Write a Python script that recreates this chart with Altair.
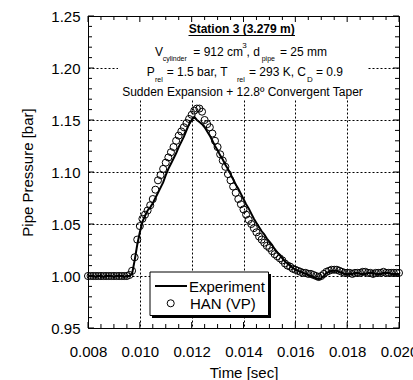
import altair as alt
import pandas as pd

# ---------------- data ----------------
time = [
    0.0080, 0.0081, 0.0082, 0.0083, 0.0084, 0.0085, 0.0086, 0.0087, 0.0088, 0.0089,
    0.0090, 0.0091, 0.0092, 0.0093, 0.0094, 0.0095, 0.0096, 0.0097, 0.0098, 0.0099,
    0.0100, 0.0101, 0.0102, 0.0103, 0.0104, 0.0105, 0.0106, 0.0107, 0.0108, 0.0109,
    0.0110, 0.0111, 0.0112, 0.0113, 0.0114, 0.0115, 0.0116, 0.0117, 0.0118, 0.0119,
    0.0120, 0.0121, 0.0122, 0.0123, 0.0124, 0.0125, 0.0126, 0.0127, 0.0128, 0.0129,
    0.0130, 0.0131, 0.0132, 0.0133, 0.0134, 0.0135, 0.0136, 0.0137, 0.0138, 0.0139,
    0.0140, 0.0141, 0.0142, 0.0143, 0.0144, 0.0145, 0.0146, 0.0147, 0.0148, 0.0149,
    0.0150, 0.0151, 0.0152, 0.0153, 0.0154, 0.0155, 0.0156, 0.0157, 0.0158, 0.0159,
    0.0160, 0.0161, 0.0162, 0.0163, 0.0164, 0.0165, 0.0166, 0.0167, 0.0168, 0.0169,
    0.0170, 0.0171, 0.0172, 0.0173, 0.0174, 0.0175, 0.0176, 0.0177, 0.0178, 0.0179,
    0.0180, 0.0181, 0.0182, 0.0183, 0.0184, 0.0185, 0.0186, 0.0187, 0.0188, 0.0189,
    0.0190, 0.0191, 0.0192, 0.0193, 0.0194, 0.0195, 0.0196, 0.0197, 0.0198, 0.0199,
    0.0200,
]

experiment = [
    1.000, 1.000, 1.000, 0.999, 1.000, 1.000, 0.999, 1.000, 1.000, 1.000,
    0.999, 1.000, 1.000, 1.000, 0.999, 1.000, 1.000, 1.002, 1.015, 1.030,
    1.042, 1.052, 1.058, 1.063, 1.066, 1.070, 1.075, 1.080, 1.085, 1.090,
    1.097, 1.103, 1.108, 1.113, 1.118, 1.124, 1.129, 1.134, 1.140, 1.146,
    1.150, 1.153, 1.150, 1.148, 1.146, 1.143, 1.139, 1.135, 1.130, 1.125,
    1.121, 1.116, 1.112, 1.107, 1.103, 1.098, 1.093, 1.088, 1.084, 1.079,
    1.074, 1.069, 1.065, 1.060, 1.055, 1.051, 1.047, 1.043, 1.040, 1.036,
    1.033, 1.030, 1.026, 1.023, 1.020, 1.017, 1.014, 1.012, 1.010, 1.008,
    1.006, 1.005, 1.004, 1.003, 1.002, 1.001, 1.000, 0.999, 0.998, 0.997,
    0.998, 1.000, 1.003, 1.004, 1.005, 1.005, 1.005, 1.004, 1.003, 1.002,
    1.002, 1.002, 1.002, 1.003, 1.003, 1.002, 1.002, 1.002, 1.003, 1.003,
    1.003, 1.002, 1.002, 1.002, 1.003, 1.003, 1.003, 1.002, 1.002, 1.002,
    1.002,
]

han_vp = [
    1.000, 1.000, 1.000, 1.000, 1.000, 1.000, 1.000, 1.000, 1.000, 1.000,
    1.000, 1.000, 1.000, 1.000, 1.000, 1.000, 1.001, 1.005, 1.018, 1.035,
    1.048, 1.055, 1.059, 1.063, 1.068, 1.074, 1.083, 1.092, 1.097, 1.103,
    1.109, 1.114, 1.119, 1.124, 1.130, 1.135, 1.139, 1.143, 1.147, 1.151,
    1.155, 1.159, 1.161, 1.161, 1.158, 1.150, 1.146, 1.143, 1.137, 1.130,
    1.124, 1.117, 1.111, 1.105, 1.098, 1.092, 1.086, 1.080, 1.074, 1.069,
    1.064, 1.059, 1.054, 1.050, 1.046, 1.042, 1.038, 1.035, 1.032, 1.029,
    1.027, 1.024, 1.021, 1.019, 1.017, 1.015, 1.012, 1.010, 1.009, 1.007,
    1.006, 1.005, 1.004, 1.003, 1.003, 1.002, 1.002, 1.001, 1.000, 0.999,
    1.000, 1.002, 1.004, 1.005, 1.006, 1.006, 1.006, 1.005, 1.004, 1.003,
    1.003, 1.003, 1.002, 1.003, 1.003, 1.003, 1.004, 1.004, 1.003, 1.003,
    1.002, 1.003, 1.003, 1.003, 1.004, 1.003, 1.003, 1.003, 1.003, 1.003,
    1.003,
]

x_major = [0.008, 0.010, 0.012, 0.014, 0.016, 0.018, 0.020]
x_minor = [0.0085, 0.0090, 0.0095, 0.0105, 0.0110, 0.0115, 0.0125, 0.0130, 0.0135,
           0.0145, 0.0150, 0.0155, 0.0165, 0.0170, 0.0175, 0.0185, 0.0190, 0.0195]
y_major = [0.95, 1.00, 1.05, 1.10, 1.15, 1.20, 1.25]
y_minor = [0.96, 0.97, 0.98, 0.99, 1.01, 1.02, 1.03, 1.04, 1.06, 1.07, 1.08, 1.09,
           1.11, 1.12, 1.13, 1.14, 1.16, 1.17, 1.18, 1.19, 1.21, 1.22, 1.23, 1.24]

# ---------------- layout ----------------
W, H = 311, 312
FONT = "Liberation Sans"

df = pd.DataFrame({"t": time, "exp": experiment, "han": han_vp})
one = pd.DataFrame({"k": [0]})

xs = alt.Scale(domain=[0.008, 0.020], nice=False, zero=False)
ys = alt.Scale(domain=[0.95, 1.25], nice=False, zero=False)

x_axis = alt.Axis(
    values=x_major, format=".3f", grid=True, gridColor="black", gridDash=[2, 2],
    gridWidth=1, gridOpacity=1, ticks=False, tickSize=0, domain=False,
    labelFont=FONT, labelFontSize=15, labelColor="black", labelPadding=16,
    labelFlush=False, labelOverlap=False,
    title="Time [sec]", titleFont=FONT, titleFontSize=15, titleFontWeight="normal",
    titleColor="black", titleX=155.5, titleY=44, titleBaseline="middle",
)
y_axis = alt.Axis(
    values=y_major, format=".2f", grid=True, gridColor="black", gridDash=[2, 2],
    gridWidth=1, gridOpacity=1, ticks=False, tickSize=0, domain=False,
    labelFont=FONT, labelFontSize=15, labelColor="black", labelPadding=8,
    labelFlush=False, labelOverlap=False,
    title="Pipe Pressure [bar]", titleFont=FONT, titleFontSize=15,
    titleFontWeight="normal", titleColor="black", titleX=-61, titleY=156,
    titleAngle=270, titleBaseline="middle", titleAlign="center",
)

line = alt.Chart(df).mark_line(color="black", strokeWidth=2).encode(
    x=alt.X("t:Q", scale=xs, axis=x_axis),
    y=alt.Y("exp:Q", scale=ys, axis=y_axis),
)
pts = alt.Chart(df).mark_point(shape="circle", size=50, color="black",
                               strokeWidth=1, filled=False, opacity=1).encode(
    x=alt.X("t:Q", scale=xs, axis=x_axis),
    y=alt.Y("han:Q", scale=ys, axis=y_axis),
)


def txt(s, x, y, size=12, weight="normal", align="left", baseline="alphabetic"):
    return alt.Chart(one).mark_text(
        text=s, font=FONT, fontSize=size, fontWeight=weight, align=align,
        baseline=baseline, color="black",
    ).encode(x=alt.value(x), y=alt.value(y))


# white annotation box
box = alt.Chart(one).mark_rect(fill="white").encode(
    x=alt.value(30), x2=alt.value(279), y=alt.value(1), y2=alt.value(84))

# inward ticks
xmaj_df = pd.DataFrame({"t": x_major})
xmin_df = pd.DataFrame({"t": x_minor})
ymaj_df = pd.DataFrame({"exp": y_major})
ymin_df = pd.DataFrame({"exp": y_minor})


def xticks(d, length):
    bot = alt.Chart(d).mark_rule(color="black", strokeWidth=1).encode(
        x=alt.X("t:Q", scale=xs, axis=x_axis), y=alt.value(H), y2=alt.value(H - length))
    top = alt.Chart(d).mark_rule(color="black", strokeWidth=1).encode(
        x=alt.X("t:Q", scale=xs, axis=x_axis), y=alt.value(0), y2=alt.value(length))
    return [bot, top]


def yticks(d, length):
    lft = alt.Chart(d).mark_rule(color="black", strokeWidth=1).encode(
        y=alt.Y("exp:Q", scale=ys, axis=y_axis), x=alt.value(0), x2=alt.value(length))
    rgt = alt.Chart(d).mark_rule(color="black", strokeWidth=1).encode(
        y=alt.Y("exp:Q", scale=ys, axis=y_axis), x=alt.value(W), x2=alt.value(W - length))
    return [lft, rgt]


ticks = xticks(xmaj_df, 6) + xticks(xmin_df, 4) + yticks(ymaj_df, 6) + yticks(ymin_df, 4)

# annotation text
ann = [
    txt("Station 3 (3.279 m)", 153.7, 17, size=12, weight="bold", align="center"),
    alt.Chart(one).mark_rule(color="black", strokeWidth=1).encode(
        x=alt.value(100.5), x2=alt.value(207), y=alt.value(19.5)),
    # line 2
    txt("V", 67, 40),
    txt("cylinder", 74.7, 45, size=7),
    txt("= 912 cm", 105.3, 40),
    txt("3", 154.3, 32, size=8),
    txt(", d", 158.5, 40),
    txt("pipe", 173.7, 45, size=7),
    txt("= 25 mm", 192, 40),
    # line 3
    txt("P", 58.7, 60),
    txt("rel", 67, 66, size=7),
    txt("= 1.5 bar, T", 78.7, 60),
    txt("rel", 149, 66, size=7),
    txt("= 293 K, C", 161, 60),
    txt("D", 219, 66, size=8),
    txt("= 0.9", 228, 60),
    # line 4
    txt("Sudden Expansion + 12.8º Convergent Taper", 154.5, 80, align="center"),
]

# legend
leg = [
    alt.Chart(one).mark_rect(fill="black").encode(
        x=alt.value(64), x2=alt.value(183), y=alt.value(258), y2=alt.value(302)),
    alt.Chart(one).mark_rect(fill="white", stroke="black", strokeWidth=1).encode(
        x=alt.value(62), x2=alt.value(180.5), y=alt.value(256), y2=alt.value(299.5)),
    alt.Chart(one).mark_rule(color="black", strokeWidth=2).encode(
        x=alt.value(67), x2=alt.value(99), y=alt.value(270)),
    alt.Chart(one).mark_point(shape="circle", size=50, color="black", filled=False,
                              strokeWidth=1, opacity=1).encode(
        x=alt.value(82.7), y=alt.value(287.3)),
    txt("Experiment", 101, 270.5, size=15, baseline="middle"),
    txt("HAN (VP)", 102, 287.5, size=15, baseline="middle"),
]

chart = alt.layer(line, pts, box, *ticks, *ann, *leg).properties(
    width=W, height=H,
    padding={"left": 88, "top": 16, "right": 14, "bottom": 52},
    autosize=alt.AutoSizeParams(type="none"),
).configure_view(stroke="black", strokeWidth=1)

chart.save("out.html", embed_options={"renderer": "svg", "actions": False})
